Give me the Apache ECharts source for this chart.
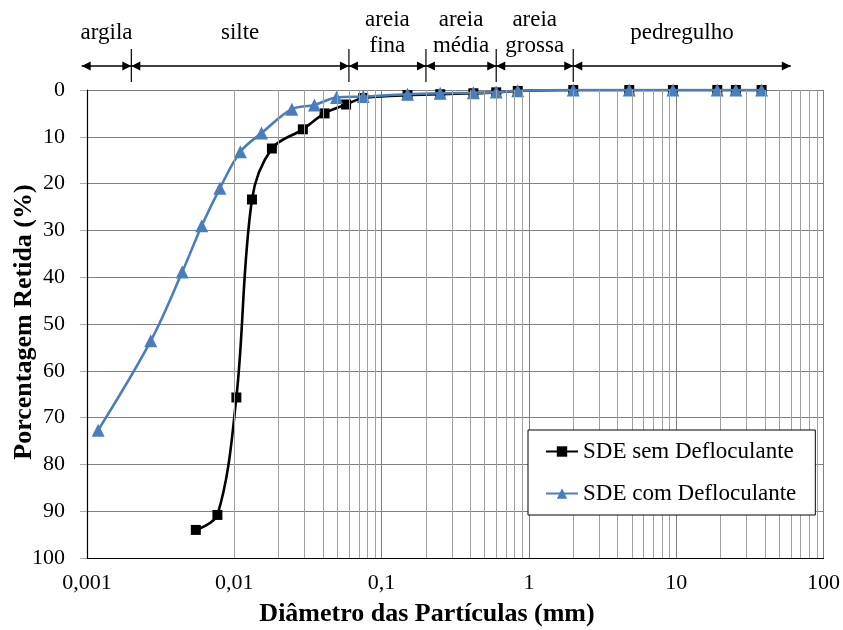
<!DOCTYPE html>
<html>
<head>
<meta charset="utf-8">
<script src="https://cdn.jsdelivr.net/npm/echarts@6/dist/echarts.min.js"></script>
<style>
  html, body { margin: 0; padding: 0; background: #fff; }
  #chart { width: 843px; height: 630px; }
</style>
</head>
<body>
<div id="chart"></div>
<script>
// Grain-size distribution: diameter (mm, log scale) vs. percent retained
var semDiam = [0.00548, 0.00768, 0.01033, 0.01318, 0.0180, 0.0292, 0.0410, 0.0574,
               0.075, 0.15, 0.25, 0.42, 0.6, 0.84, 2.0, 4.8, 9.5, 19, 25.4, 38];
var semRet  = [94.0, 90.8, 65.7, 23.4, 12.5, 8.4, 5.0, 3.1,
               1.7, 1.1, 0.9, 0.7, 0.5, 0.2, 0, 0, 0, 0, 0, 0];

var comDiam = [0.00119, 0.00271, 0.00443, 0.00601, 0.00798, 0.0110, 0.0153, 0.0246, 0.0350, 0.0494,
               0.075, 0.15, 0.25, 0.42, 0.6, 0.84, 2.0, 4.8, 9.5, 19, 25.4, 38];
var comRet  = [72.7, 53.6, 38.9, 29.0, 21.0, 13.2, 9.2, 4.1, 3.2, 1.6,
               1.4, 0.9, 0.7, 0.6, 0.45, 0.15, 0, 0, 0, 0, 0, 0];

var seriesNames = ['SDE sem Defloculante', 'SDE com Defloculante'];

// Soil classes (ABNT) drawn above the plot
var classEdges = [0.00092, 0.002, 0.06, 0.2, 0.6, 2, 60];
var classNames = ['argila', 'silte', 'areia\nfina', 'areia\nmédia', 'areia\ngrossa', 'pedregulho'];

var xTickValues = [0.001, 0.01, 0.1, 1, 10, 100];
var xTickLabels = ['0,001', '0,01', '0,1', '1', '10', '100'];

// Minor log gridlines (2..9 in every decade)
var minorGrid = [];
for (var d = 0; d < 5; d++) {
  for (var m = 2; m <= 9; m++) minorGrid.push(+(m * Math.pow(10, d - 3)).toPrecision(3));
}

var FONT = '"Liberation Serif", "Times New Roman", serif';

function pairs(xs, ys) { return xs.map(function (x, i) { return [x, ys[i]]; }); }

var classData = [];
for (var i = 0; i < classNames.length; i++) {
  classData.push({ value: [classEdges[i], classEdges[i + 1], 0], name: classNames[i] });
}

function renderClass(params, api) {
  var p0 = api.coord([api.value(0), 0]);
  var p1 = api.coord([api.value(1), 0]);
  var top = p0[1];
  var yA = top - 24;
  var ah = 9, aw = 4.5;
  var children = [
    { type: 'line', shape: { x1: p0[0], y1: yA, x2: p1[0], y2: yA },
      style: { stroke: '#000', lineWidth: 1.6 } },
    { type: 'polygon', shape: { points: [[p0[0], yA], [p0[0] + ah, yA - aw], [p0[0] + ah, yA + aw]] },
      style: { fill: '#000' } },
    { type: 'polygon', shape: { points: [[p1[0], yA], [p1[0] - ah, yA - aw], [p1[0] - ah, yA + aw]] },
      style: { fill: '#000' } },
    { type: 'text', x: (p0[0] + p1[0]) / 2, y: top - 57,
      style: { text: classNames[params.dataIndex], font: '23px ' + FONT, fill: '#000',
               align: 'center', verticalAlign: 'middle', lineHeight: 26 } }
  ];
  if (params.dataIndex > 0) {
    children.push({ type: 'line', shape: { x1: p0[0], y1: top - 41, x2: p0[0], y2: top - 8 },
      style: { stroke: '#000', lineWidth: 1.2 } });
  }
  return { type: 'group', children: children };
}

var chart = echarts.init(document.getElementById('chart'), null, { renderer: 'canvas' });

chart.setOption({
  animation: false,
  backgroundColor: '#fff',
  grid: { left: 87, right: 18, top: 90, bottom: 72 },
  xAxis: {
    type: 'log', logBase: 10, min: 0.001, max: 100,
    axisLine: { onZero: false, lineStyle: { color: '#000', width: 1.2 } },
    axisTick: { show: false },
    axisLabel: {
      margin: 14, color: '#000', fontFamily: FONT, fontSize: 22,
      formatter: function (v) {
        var best = 0;
        for (var k = 0; k < xTickValues.length; k++) {
          if (Math.abs(Math.log10(v) - Math.log10(xTickValues[k])) <
              Math.abs(Math.log10(v) - Math.log10(xTickValues[best]))) best = k;
        }
        return xTickLabels[best];
      }
    },
    splitLine: { show: true, lineStyle: { color: '#808080', width: 1 } }
  },
  yAxis: {
    type: 'value', min: 0, max: 100, interval: 10, inverse: true,
    axisLine: { show: true, lineStyle: { color: '#000', width: 1.2 } },
    axisTick: { show: true, length: 7, lineStyle: { color: '#aaa' } },
    axisLabel: { margin: 22, color: '#000', fontFamily: FONT, fontSize: 22 },
    splitLine: { show: true, lineStyle: { color: '#808080', width: 1 } }
  },
  legend: {
    data: seriesNames,
    orient: 'vertical',
    left: 528, top: 430,
    padding: [10, 19, 10, 17],
    itemGap: 19, itemWidth: 32, itemHeight: 13,
    borderColor: '#000', borderWidth: 1, backgroundColor: '#fff',
    z: 20,
    textStyle: { fontFamily: FONT, fontSize: 23, color: '#000' }
  },
  graphic: [
    { type: 'text', x: 427, y: 614,
      style: { text: 'Diâmetro das Partículas (mm)', font: 'bold 26px ' + FONT, fill: '#000',
               align: 'center', verticalAlign: 'middle' } },
    { type: 'text', x: 24, y: 322, rotation: Math.PI / 2,
      style: { text: 'Porcentagem Retida (%)', font: 'bold 26px ' + FONT, fill: '#000',
               align: 'center', verticalAlign: 'middle' } }
  ],
  series: [
    {
      name: 'grade', type: 'line', data: [], z: 1, silent: true,
      markLine: {
        silent: true, symbol: 'none', label: { show: false },
        lineStyle: { color: '#a0a0a0', width: 1, type: 'solid' },
        data: minorGrid.map(function (v) { return { xAxis: v }; })
      }
    },
    {
      name: 'classes', type: 'custom', renderItem: renderClass, data: classData,
      clip: false, silent: true, z: 5,
      encode: { x: [0, 1], y: 2 }
    },
    {
      name: seriesNames[0], type: 'line', data: pairs(semDiam, semRet),
      smooth: 0.35, symbol: 'rect', symbolSize: 10, z: 3,
      lineStyle: { color: '#000', width: 2.6 },
      itemStyle: { color: '#000' }
    },
    {
      name: seriesNames[1], type: 'line', data: pairs(comDiam, comRet),
      smooth: 0.35, symbol: 'triangle', symbolSize: 13, z: 4,
      lineStyle: { color: '#4a7ebb', width: 2.6 },
      itemStyle: { color: '#4a7ebb' }
    }
  ]
});
</script>
</body>
</html>
